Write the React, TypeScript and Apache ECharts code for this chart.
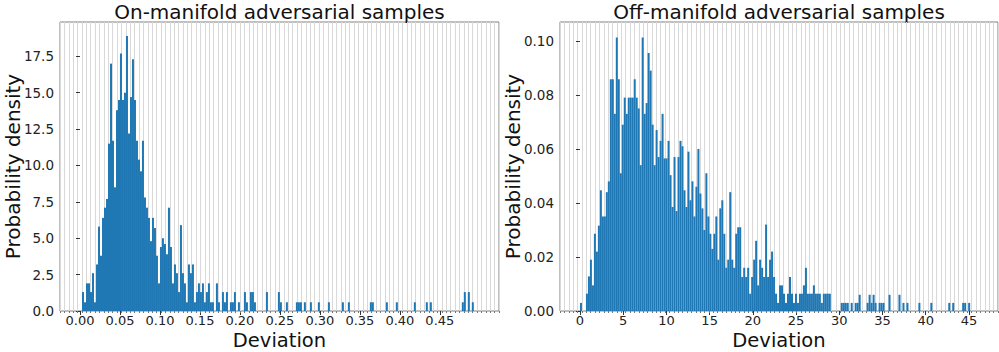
import React, { useEffect, useRef } from "react";
import * as echarts from "echarts";

// Histogram bin widths (data units)
const onBinWidth = 0.0025;
const offBinWidth = 0.2303;

// On-manifold: probability density per bin (bins start at 0)
const onDensity = [
  0, 1.3, 0.6, 1.9, 1.9, 1.3, 2.6, 0.6, 3.2, 5.8, 3.8, 6.4, 7.1, 7.7, 11.5, 17.0, 11.7, 8.5, 13.8, 14.5,
  17.7, 14.5, 15.0, 18.9, 12.2, 14.7, 17.3, 14.5, 11.7, 10.4, 9.6, 11.7, 7.8, 7.1, 6.4, 4.8, 6.4, 5.7, 3.8, 1.9,
  4.4, 5.0, 4.6, 3.9, 7.1, 4.4, 1.9, 3.2, 2.6, 1.3, 5.9, 2.6, 1.9, 0.6, 3.2, 2.6, 3.2, 0.6, 1.3, 1.9,
  1.3, 1.9, 0.6, 1.3, 1.9, 0.6, 0.6, 0, 1.9, 0.6, 0, 1.3, 0.6, 1.3, 0, 0.6, 0.6, 1.3, 0, 0.6,
  0, 0, 1.3, 0.6, 0, 1.3, 1.3, 0.6, 0, 0, 0, 0, 0, 1.3, 0, 0, 0, 0, 0, 1.3,
  0.6, 0, 0, 0.6, 0, 0, 0, 0, 0.6, 0.6, 0.6, 0, 0.6, 0, 0, 0.6, 0, 0, 0, 0.6,
  0, 0, 0, 0, 0.6, 0, 0, 0, 0, 0, 0, 0.6, 0, 0, 0.6, 0, 0, 0, 0, 0,
  0, 0, 0, 0, 0, 0.6, 0.6, 0, 0, 0, 0, 0, 0, 0.6, 0, 0, 0, 0, 0.6, 0,
  0, 0, 0, 0, 0, 0, 0, 0.6, 0, 0, 0, 0, 0, 0.6, 0, 0.6, 0, 0, 0, 0,
  0, 0, 0, 0, 0, 0, 0, 0, 0, 0, 0, 0.6, 1.3, 0, 1.3, 0, 0.6, 0, 0, 0,
];

// Off-manifold: probability density per bin (bins start at 0)
const offDensity = [
  0.003, 0, 0, 0.0064, 0.0128, 0.019, 0.0095, 0.0286, 0.022, 0.0316, 0.0447, 0.035, 0.035, 0.044, 0.048, 0.0858, 0.0858, 0.073, 0.1013, 0.0858,
  0.051, 0.069, 0.079, 0.073, 0.079, 0.079, 0.079, 0.0858, 0.079, 0.075, 0.054, 0.1013, 0.073, 0.077, 0.0955, 0.089, 0.069, 0.054, 0.067, 0.057,
  0.063, 0.073, 0.0565, 0.0565, 0.063, 0.0503, 0.0385, 0.057, 0.037, 0.057, 0.063, 0.061, 0.0447, 0.0385, 0.059, 0.041, 0.048, 0.035, 0.046, 0.06,
  0.0435, 0.038, 0.03, 0.051, 0.035, 0.0286, 0.023, 0.0286, 0.035, 0.019, 0.038, 0.041, 0.0286, 0.016, 0.019, 0.044, 0.019, 0.016, 0.0286, 0.031,
  0.031, 0.0126, 0.016, 0.0126, 0.016, 0.0064, 0.0126, 0.019, 0.026, 0.0095, 0.019, 0.016, 0.0126, 0.032, 0.0126, 0.019, 0.022, 0.0126, 0.0064, 0.003,
  0.0095, 0.0095, 0.0064, 0.003, 0.0064, 0.0126, 0.0064, 0.003, 0.0064, 0.003, 0.0064, 0.0064, 0.0095, 0.016, 0.0064, 0.0064, 0.0064, 0.0095, 0.0064, 0.0064,
  0.0064, 0.003, 0.0064, 0.0064, 0.0064, 0.0064, 0, 0, 0, 0, 0, 0.003, 0.003, 0.003, 0.003, 0, 0.003, 0, 0.003, 0.003,
  0.006, 0, 0, 0, 0.003, 0.006, 0.003, 0.006, 0.003, 0, 0.003, 0.003, 0.003, 0, 0, 0.006, 0, 0, 0, 0,
  0.006, 0, 0.003, 0, 0.003, 0, 0, 0, 0, 0, 0.003, 0, 0, 0, 0, 0, 0.003, 0, 0, 0,
  0, 0, 0, 0, 0, 0.003, 0, 0.003, 0, 0, 0, 0, 0.003, 0.003, 0, 0.003, 0, 0, 0, 0,
];

// Tick labels
const onXTicks = [0, 0.05, 0.1, 0.15, 0.2, 0.25, 0.3, 0.35, 0.4, 0.45];
const onYTicks = [0, 2.5, 5, 7.5, 10, 12.5, 15, 17.5];
const offXTicks = [0, 5, 10, 15, 20, 25, 30, 35, 40, 45];
const offYTicks = [0, 0.02, 0.04, 0.06, 0.08, 0.1];

const titles = ["On-manifold adversarial samples", "Off-manifold adversarial samples"];
const xTitle = "Deviation";
const yTitle = "Probability density";

const FONT = "DejaVu Sans";
const BAR = "#1f77b4";

function toBins(h: number[], w: number) {
  return h.map((v, i) => [i * w, (i + 1) * w, v]).filter((d) => d[2] > 0);
}

export default function App() {
  const ref = useRef<HTMLDivElement>(null);
  useEffect(() => {
    const chart = echarts.init(ref.current!, null, { renderer: "svg" });
    const grids = [
      { left: 60, top: 22, width: 439, height: 289 },
      { left: 560, top: 22, width: 438, height: 289 },
    ];
    const xr = [
      [-0.025, 0.524],
      [-2.31, 48.36],
    ];
    const yMax = [19.86, 0.107];
    const xt = [onXTicks, offXTicks];
    const yt = [onYTicks, offYTicks];
    const xf = [(v: number) => v.toFixed(2), (v: number) => String(Math.round(v))];
    const yf = [(v: number) => v.toFixed(1), (v: number) => v.toFixed(2)];

    const xAxis: any[] = [];
    const yAxis: any[] = [];
    const series: any[] = [];
    const graphic: any[] = [];
    const dataSets = [toBins(onDensity, onBinWidth), toBins(offDensity, offBinWidth)];

    grids.forEach((g, i) => {
      xAxis.push({
        type: "value",
        gridIndex: i,
        position: "bottom",
        min: xr[i][0],
        max: xr[i][1],
        axisLine: { show: false },
        splitLine: { show: false },
        axisTick: { show: true, customValues: xt[i], length: 4, lineStyle: { color: "#333" } },
        axisLabel: {
          customValues: xt[i],
          formatter: xf[i],
          fontSize: 13,
          lineHeight: 13,
          fontFamily: FONT,
          color: "#222",
          margin: 3,
        },
      });
      xAxis.push({
        type: "value",
        gridIndex: i,
        position: "bottom",
        min: 0,
        max: 100,
        interval: 1,
        axisLine: { show: false },
        axisLabel: { show: false },
        axisTick: { show: true, length: 2, lineStyle: { color: "#777" } },
        splitLine: { show: true, lineStyle: { color: "#d9d9d9", width: 1 } },
      });
      yAxis.push({
        type: "value",
        gridIndex: i,
        min: 0,
        max: yMax[i],
        axisLine: { show: false },
        splitLine: { show: false },
        axisTick: { show: true, customValues: yt[i], length: 4, lineStyle: { color: "#333" } },
        axisLabel: {
          customValues: yt[i],
          formatter: yf[i],
          fontSize: 13.5,
          fontFamily: FONT,
          color: "#222",
          margin: 6,
        },
      });
      series.push({
        type: "custom",
        xAxisIndex: i * 2,
        yAxisIndex: i,
        data: dataSets[i],
        encode: { x: [0, 1], y: 2 },
        z: 5,
        renderItem: (params: any, api: any) => {
          const p0 = api.coord([api.value(0), api.value(2)]);
          const p1 = api.coord([api.value(1), 0]);
          return {
            type: "rect",
            shape: { x: p0[0], y: p0[1], width: p1[0] - p0[0], height: p1[1] - p0[1] },
            style: { fill: BAR },
          };
        },
      });
      const cx = g.left + g.width / 2;
      graphic.push({
        type: "text",
        x: cx,
        y: 12,
        style: { text: titles[i], fontSize: 20, fontFamily: FONT, fill: "#111", textAlign: "center", textVerticalAlign: "middle" },
      });
      graphic.push({
        type: "text",
        x: cx,
        y: 340,
        style: { text: xTitle, fontSize: 19.5, lineHeight: 20, fontFamily: FONT, fill: "#111", textAlign: "center", textVerticalAlign: "middle" },
      });
      graphic.push({
        type: "text",
        x: g.left - 47,
        y: g.top + g.height / 2,
        rotation: Math.PI / 2,
        style: { text: yTitle, fontSize: 20, fontFamily: FONT, fill: "#111", textAlign: "center", textVerticalAlign: "middle" },
      });
    });

    chart.setOption({
      animation: false,
      backgroundColor: "#ffffff",
      grid: grids.map((g) => ({ ...g, show: true, borderColor: "#808080", borderWidth: 1, containLabel: false })),
      xAxis,
      yAxis,
      series,
      graphic,
    });
    return () => chart.dispose();
  }, []);
  return <div ref={ref} style={{ position: "absolute", left: 0, top: 0, width: 999, height: 352 }} />;
}
